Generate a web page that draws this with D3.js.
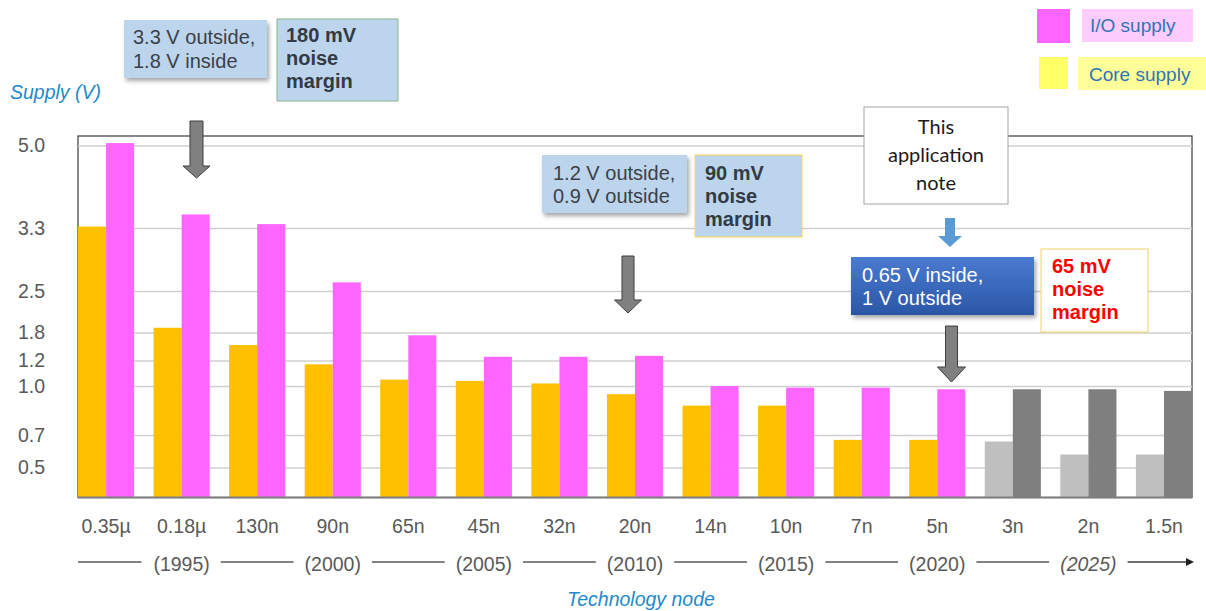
<!DOCTYPE html>
<html>
<head>
<meta charset="utf-8">
<script src="https://cdn.jsdelivr.net/npm/d3@7"></script>
<style>
  html, body { margin: 0; padding: 0; background: #fff; }
  svg { display: block; font-family: "Liberation Sans", Arial, sans-serif; }
</style>
</head>
<body>
<svg id="chart" width="1206" height="611"></svg>
<script>
// Technology nodes along the x axis
const nodes = ["0.35\u00b5", "0.18\u00b5", "130n", "90n", "65n", "45n", "32n", "20n",
               "14n", "10n", "7n", "5n", "3n", "2n", "1.5n"];
// Nodes that are still projections (drawn in gray)
const projectedNodes = ["3n", "2n", "1.5n"];
// Supply voltages (V)
const coreSupply = [3.33, 1.88, 1.53, 1.17, 1.05, 1.04, 1.02, 0.95, 0.88, 0.88, 0.67, 0.67, 0.66, 0.58, 0.58];
const ioSupply   = [5.05, 3.58, 3.38, 2.61, 1.74, 1.28, 1.28, 1.30, 1.00, 0.99, 0.99, 0.98, 0.98, 0.98, 0.97];
// Y-axis tick values (non-uniform spacing)
const yTicks = [0.5, 0.7, 1.0, 1.2, 1.8, 2.5, 3.3, 5.0];
// Year markers under the node labels
const years = ["(1995)", "(2000)", "(2005)", "(2010)", "(2015)", "(2020)", "(2025)"];
const yearNodes = ["0.18\u00b5", "90n", "45n", "20n", "10n", "5n", "2n"];

(function draw() {
const svg = d3.select("#chart");
const plotLeft = 78, plotRight = 1192, plotTop = 136, plotBottom = 497.5;

const x = d3.scaleBand().domain(nodes).range([plotLeft, plotRight]).paddingInner(0.2576).paddingOuter(0);
const y = d3.scaleLinear()
  .domain([0, ...yTicks])
  .range([plotBottom, 467.5, 435, 386, 360.5, 332.5, 291, 228, 145.5]);

const col = {
  core: "#FFC000", io: "#FF66FF", coreP: "#BFBFBF", ioP: "#7F7F7F",
  grid: "#CFCFCF", tick: "#595959", blue: "#1F8ACB"
};

const defs = svg.append("defs");
const shadow = defs.append("filter").attr("id", "shadow")
  .attr("x", "-10%").attr("y", "-10%").attr("width", "130%").attr("height", "140%");
shadow.append("feDropShadow").attr("dx", 2).attr("dy", 3).attr("stdDeviation", 2)
  .attr("flood-color", "#000").attr("flood-opacity", 0.35);
const grad = defs.append("linearGradient").attr("id", "blueGrad")
  .attr("x1", 0).attr("y1", 0).attr("x2", 0).attr("y2", 1);
grad.append("stop").attr("offset", "0%").attr("stop-color", "#4A7BD0");
grad.append("stop").attr("offset", "100%").attr("stop-color", "#2B56A6");

// Plot frame
svg.append("rect").attr("x", plotLeft).attr("y", plotTop)
  .attr("width", plotRight - plotLeft).attr("height", plotBottom - plotTop)
  .attr("fill", "none").attr("stroke", "#3a3a3a").attr("stroke-width", 1.2);

// Y axis with gridlines
const yAxis = d3.axisLeft(y).tickValues(yTicks).tickFormat(d3.format(".1f"))
  .tickSizeInner(-(plotRight - plotLeft)).tickSizeOuter(0).tickPadding(33);
const gy = svg.append("g").attr("transform", `translate(${plotLeft},0)`).call(yAxis);
gy.select(".domain").remove();
gy.selectAll(".tick line").attr("stroke", col.grid).attr("stroke-width", 1.5);
gy.selectAll(".tick text").attr("fill", col.tick).attr("font-size", 19.5)
  .attr("font-family", "Liberation Sans, Arial, sans-serif");

// Bars
const rows = nodes.map((n, i) => ({ node: n, core: coreSupply[i], io: ioSupply[i], proj: projectedNodes.includes(n) }));
const half = x.bandwidth() / 2;
const g = svg.append("g");
g.selectAll("rect.core").data(rows).join("rect").attr("class", "core")
  .attr("x", d => x(d.node)).attr("width", half)
  .attr("y", d => y(d.core)).attr("height", d => y(0) - y(d.core))
  .attr("fill", d => d.proj ? col.coreP : col.core);
g.selectAll("rect.io").data(rows).join("rect").attr("class", "io")
  .attr("x", d => x(d.node) + half).attr("width", half)
  .attr("y", d => y(d.io)).attr("height", d => y(0) - y(d.io))
  .attr("fill", d => d.proj ? col.ioP : col.io);

// Bottom axis line
svg.append("line").attr("x1", plotLeft).attr("x2", plotRight).attr("y1", plotBottom).attr("y2", plotBottom)
  .attr("stroke", "#7F7F7F").attr("stroke-width", 2);

// X axis node labels
const xAxis = d3.axisBottom(x).tickSize(0).tickPadding(22);
const gx = svg.append("g").attr("transform", `translate(0,${plotBottom})`).call(xAxis);
gx.select(".domain").remove();
gx.selectAll(".tick text").attr("fill", col.tick).attr("font-size", 19.5)
  .attr("font-family", "Liberation Sans, Arial, sans-serif");

// Year timeline
const yearY = 571, lineY = 562;
const yearG = svg.append("g");
const yt = yearG.selectAll("text").data(years).join("text")
  .attr("x", (d, i) => x(yearNodes[i]) + x.bandwidth() / 2)
  .attr("y", yearY).attr("text-anchor", "middle")
  .attr("font-size", 19.5).attr("fill", col.tick)
  .attr("font-style", (d, i) => i === years.length - 1 ? "italic" : null)
  .text(d => d);
const extents = [];
yt.each(function (d, i) {
  const w = this.getComputedTextLength();
  const cx = x(yearNodes[i]) + x.bandwidth() / 2;
  extents.push([cx - w / 2, cx + w / 2]);
});
const segs = [[plotLeft, extents[0][0] - 12]];
for (let i = 1; i < extents.length; i++) segs.push([extents[i - 1][1] + 11, extents[i][0] - 11]);
segs.forEach(s => yearG.append("line").attr("x1", s[0]).attr("x2", s[1]).attr("y1", lineY).attr("y2", lineY)
  .attr("stroke", "#595959").attr("stroke-width", 1.3));
const lastEnd = extents[extents.length - 1][1] + 11;
yearG.append("line").attr("x1", lastEnd).attr("x2", 1188).attr("y1", lineY).attr("y2", lineY)
  .attr("stroke", "#404040").attr("stroke-width", 1.3);
yearG.append("path").attr("d", `M1186,${lineY - 4} L1194,${lineY} L1186,${lineY + 4} Z`).attr("fill", "#202020");

// Axis titles
svg.append("text").attr("x", 10).attr("y", 99).attr("font-size", 19.5).attr("font-style", "italic")
  .attr("fill", col.blue).text("Supply (V)");
svg.append("text").attr("x", 641).attr("y", 606).attr("text-anchor", "middle").attr("font-size", 19.5)
  .attr("font-style", "italic").attr("fill", col.blue).text("Technology node");

// Legend
const legend = svg.append("g");
legend.append("rect").attr("x", 1037).attr("y", 9).attr("width", 33).attr("height", 34).attr("fill", "#FF66FF");
legend.append("rect").attr("x", 1082).attr("y", 9).attr("width", 111).attr("height", 33).attr("fill", "#FFCCFF");
legend.append("text").attr("x", 1090).attr("y", 32).attr("font-size", 19).attr("fill", "#2E75B6").text("I/O supply");
legend.append("rect").attr("x", 1039).attr("y", 57).attr("width", 29).attr("height", 32).attr("fill", "#FFFF66");
legend.append("rect").attr("x", 1078).attr("y", 57).attr("width", 128).attr("height", 33).attr("fill", "#FFFF99");
legend.append("text").attr("x", 1089).attr("y", 81).attr("font-size", 19).attr("fill", "#2E75B6").text("Core supply");

// Annotation helpers
function box(xp, yp, w, h, o) {
  const r = svg.append("rect").attr("x", xp).attr("y", yp).attr("width", w).attr("height", h)
    .attr("fill", o.fill || "none");
  if (o.stroke) r.attr("stroke", o.stroke).attr("stroke-width", o.sw || 1);
  if (o.shadow) r.attr("filter", "url(#shadow)");
  const t = svg.append("text").attr("font-size", o.size || 20).attr("fill", o.color || "#3C4048")
    .attr("font-weight", o.bold ? "bold" : null)
    .attr("font-family", o.font || null)
    .attr("text-anchor", o.anchor || "start");
  o.lines.forEach((ln, i) => t.append("tspan").attr("x", o.tx).attr("y", o.ty + i * o.lh).text(ln));
}
function downArrow(cx, y0, shaftW, headStart, tip, headW, o) {
  const sw = shaftW / 2, hw = headW / 2;
  svg.append("path")
    .attr("d", `M${cx - sw},${y0} L${cx + sw},${y0} L${cx + sw},${headStart} L${cx + hw},${headStart} ` +
               `L${cx},${tip} L${cx - hw},${headStart} L${cx - sw},${headStart} Z`)
    .attr("fill", o.fill).attr("stroke", o.stroke || "none").attr("stroke-width", 1);
}

// 1995 annotation
box(124, 20, 143, 58, { fill: "#BCD5EC", shadow: true, tx: 133, ty: 44, lh: 24,
  lines: ["3.3 V outside,", "1.8 V inside"] });
box(277, 19, 121, 82, { fill: "#BCD5EC", stroke: "#86B98A", bold: true, color: "#333A44",
  tx: 286, ty: 42, lh: 23, lines: ["180 mV", "noise", "margin"] });
downArrow(196.5, 121, 13, 166, 178, 27, { fill: "#808080", stroke: "#3F3F3F" });

// 2010 annotation
box(542, 155, 145, 58, { fill: "#BCD5EC", shadow: true, tx: 553, ty: 180, lh: 23,
  lines: ["1.2 V outside,", "0.9 V outside"] });
box(695, 155, 107, 82, { fill: "#BCD5EC", stroke: "#FFD34D", bold: true, color: "#333A44",
  tx: 705, ty: 180, lh: 23, lines: ["90 mV", "noise", "margin"] });
downArrow(628, 256, 12, 300, 313, 27, { fill: "#808080", stroke: "#3F3F3F" });

// Present-day annotation
box(864, 107, 144, 97, { fill: "#FFFFFF", stroke: "#A6A6A6", color: "#1A1A1A", size: 20,
  font: "Lato, 'Open Sans', sans-serif", anchor: "middle",
  tx: 936, ty: 134, lh: 28, lines: ["This", "application", "note"] });
downArrow(950, 218, 10, 236, 247, 24, { fill: "#5B9BD5" });
box(851, 257, 183, 58, { fill: "url(#blueGrad)", shadow: true, color: "#FFFFFF",
  tx: 862, ty: 282, lh: 23, lines: ["0.65 V inside,", "1 V outside"] });
box(1041, 249, 107, 83, { fill: "#FFFFFF", stroke: "#F2D36B", bold: true, color: "#FF0000",
  tx: 1052, ty: 273, lh: 23, lines: ["65 mV", "noise", "margin"] });
downArrow(951.5, 326, 12, 367, 382, 28, { fill: "#808080", stroke: "#3F3F3F" });
})();
</script>
</body>
</html>
